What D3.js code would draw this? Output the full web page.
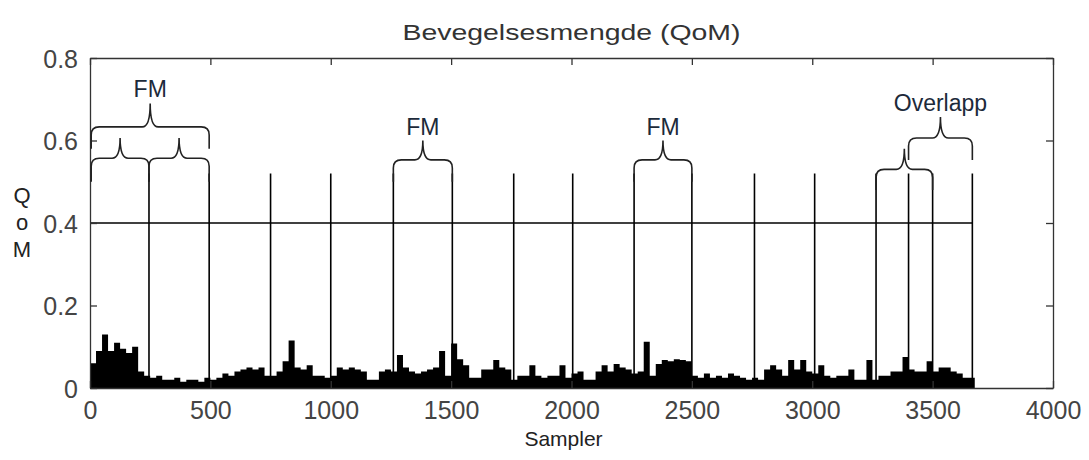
<!DOCTYPE html>
<html>
<head>
<meta charset="utf-8">
<script src="https://cdn.jsdelivr.net/npm/d3@7"></script>
<style>
  body { margin: 0; background: #fff; }
  svg { display: block; }
  .axis path, .axis line { stroke: #333; stroke-width: 1.3; }
  .axis text { font-family: "Liberation Sans", Arial, sans-serif; font-size: 25px; fill: #444; }
</style>
</head>
<body>
<div id="chart"></div>
<script>
// QoM signal, one value per 25 samples
var sampleStep = 25;
var qomValues = [
  0.06, 0.09, 0.13, 0.09, 0.11, 0.095, 0.085, 0.1, 0.04, 0.03,
  0.025, 0.03, 0.02, 0.02, 0.025, 0.015, 0.02, 0.02, 0.015, 0.025,
  0.02, 0.025, 0.035, 0.03, 0.04, 0.045, 0.05, 0.045, 0.05, 0.03,
  0.03, 0.04, 0.065, 0.115, 0.05, 0.045, 0.055, 0.03, 0.03, 0.025,
  0.03, 0.05, 0.045, 0.05, 0.045, 0.04, 0.02, 0.02, 0.04, 0.045,
  0.04, 0.08, 0.05, 0.04, 0.035, 0.04, 0.045, 0.05, 0.09, 0.03,
  0.108, 0.07, 0.055, 0.025, 0.025, 0.045, 0.045, 0.068, 0.05, 0.045,
  0.02, 0.03, 0.03, 0.055, 0.03, 0.025, 0.03, 0.03, 0.055, 0.025,
  0.035, 0.04, 0.02, 0.02, 0.04, 0.055, 0.04, 0.058, 0.05, 0.045,
  0.035, 0.04, 0.112, 0.03, 0.058, 0.068, 0.065, 0.07, 0.068, 0.065,
  0.03, 0.025, 0.035, 0.025, 0.03, 0.025, 0.035, 0.03, 0.025, 0.02,
  0.025, 0.02, 0.045, 0.055, 0.045, 0.03, 0.068, 0.045, 0.068, 0.04,
  0.035, 0.055, 0.03, 0.025, 0.03, 0.03, 0.045, 0.02, 0.02, 0.068,
  0.02, 0.03, 0.03, 0.04, 0.04, 0.075, 0.045, 0.04, 0.04, 0.065,
  0.04, 0.05, 0.05, 0.04, 0.035, 0.025, 0.025
];

// segment boundaries (samples)
var markers = [245, 495, 750, 1000, 1260, 1505, 1760, 2005, 2260, 2500,
               2760, 3010, 3265, 3400, 3500, 3665];
var markerTop = 0.52;
var threshold = 0.4;

// brace annotations: span in samples, level / tip / end in QoM units
var braces = [
  { x1: 5,    x2: 495,  level: 0.633, tip: 0.69,  end: 0.58,  label: "FM" },
  { x1: 5,    x2: 245,  level: 0.557, tip: 0.606, end: 0.50,  label: "" },
  { x1: 245,  x2: 495,  level: 0.557, tip: 0.606, end: 0.50,  label: "" },
  { x1: 1260, x2: 1505, level: 0.553, tip: 0.60,  end: 0.50,  label: "FM" },
  { x1: 2260, x2: 2500, level: 0.553, tip: 0.60,  end: 0.50,  label: "FM" },
  { x1: 3265, x2: 3500, level: 0.53,  tip: 0.58,  end: 0.48,  label: "" },
  { x1: 3400, x2: 3665, level: 0.606, tip: 0.657, end: 0.553, label: "Overlapp" }
];

var xTicks = [0, 500, 1000, 1500, 2000, 2500, 3000, 3500, 4000];
var xTickLabels = ["0", "500", "1000", "1500", "2000", "2500", "3000", "3500", "4000"];
var yTicks = [0, 0.2, 0.4, 0.6, 0.8];
var yTickLabels = ["0", "0.2", "0.4", "0.6", "0.8"];

var W = 1089, H = 460;
var margin = { top: 58, right: 36, bottom: 72, left: 90 };

var svg = d3.select("#chart").append("svg")
  .attr("width", W).attr("height", H);

var x = d3.scaleLinear().domain([0, 4000]).range([margin.left, W - margin.right]);
var y = d3.scaleLinear().domain([0, 0.8]).range([H - margin.bottom, margin.top]);

// signal area
var pts = qomValues.map(function(v, i) { return [i * sampleStep, v]; });
pts.push([qomValues.length * sampleStep, 0]);
svg.append("path")
  .datum(pts)
  .attr("fill", "#000")
  .attr("d", d3.area()
    .curve(d3.curveStepAfter)
    .x(function(d) { return x(d[0]); })
    .y0(y(0))
    .y1(function(d) { return y(d[1]); }));

// threshold line
svg.append("line")
  .attr("x1", x(0)).attr("x2", x(markers[markers.length - 1]))
  .attr("y1", y(threshold)).attr("y2", y(threshold))
  .attr("stroke", "#000").attr("stroke-width", 1.5);

// marker lines
svg.selectAll(".marker")
  .data(markers)
  .enter().append("line")
  .attr("class", "marker")
  .attr("x1", function(d) { return x(d); })
  .attr("x2", function(d) { return x(d); })
  .attr("y1", y(0)).attr("y2", y(markerTop))
  .attr("stroke", "#000").attr("stroke-width", 1.6);

// axes (MATLAB box, ticks inside)
var tickLen = 7;
var gx = svg.append("g").attr("class", "axis")
  .attr("transform", "translate(0," + y(0) + ")")
  .call(d3.axisBottom(x).tickValues(xTicks).tickSizeInner(-tickLen).tickSizeOuter(0)
    .tickFormat(function(d, i) { return xTickLabels[i]; }));
gx.selectAll("text").attr("y", 31).attr("dy", "0");

svg.append("g").attr("class", "axis")
  .attr("transform", "translate(0," + y(0.8) + ")")
  .call(d3.axisTop(x).tickValues(xTicks).tickSizeInner(-tickLen).tickSizeOuter(0).tickFormat(""));

var gy = svg.append("g").attr("class", "axis")
  .attr("transform", "translate(" + x(0) + ",0)")
  .call(d3.axisLeft(y).tickValues(yTicks).tickSizeInner(-tickLen).tickSizeOuter(0)
    .tickFormat(function(d, i) { return yTickLabels[i]; }));
gy.selectAll("text").attr("x", -12).attr("dy", "0.36em");

svg.append("g").attr("class", "axis")
  .attr("transform", "translate(" + x(4000) + ",0)")
  .call(d3.axisRight(y).tickValues(yTicks).tickSizeInner(-tickLen).tickSizeOuter(0).tickFormat(""));

// braces
function bracePath(b) {
  var x1 = x(b.x1), x2 = x(b.x2), xm = (x1 + x2) / 2;
  var yl = y(b.level), yt = y(b.tip), ye = y(b.end), r = 8;
  return "M" + x1 + "," + ye +
    "L" + x1 + "," + (yl + r) +
    "Q" + x1 + "," + yl + " " + (x1 + r) + "," + yl +
    "L" + (xm - r) + "," + yl +
    "Q" + xm + "," + yl + " " + xm + "," + yt +
    "Q" + xm + "," + yl + " " + (xm + r) + "," + yl +
    "L" + (x2 - r) + "," + yl +
    "Q" + x2 + "," + yl + " " + x2 + "," + (yl + r) +
    "L" + x2 + "," + ye;
}
svg.selectAll(".brace")
  .data(braces)
  .enter().append("path")
  .attr("class", "brace")
  .attr("d", bracePath)
  .attr("fill", "none")
  .attr("stroke", "#222")
  .attr("stroke-width", 1.6);

svg.selectAll(".blabel")
  .data(braces.filter(function(b) { return b.label; }))
  .enter().append("text")
  .attr("class", "blabel")
  .attr("x", function(b) { return x((b.x1 + b.x2) / 2); })
  .attr("y", function(b) { return y(b.tip) - 6; })
  .attr("text-anchor", "middle")
  .style("font-family", "'Liberation Sans', Arial, sans-serif")
  .style("font-size", "23px")
  .style("fill", "#1c2a3a")
  .text(function(b) { return b.label; });

// title and axis labels
svg.append("text")
  .attr("x", (x(0) + x(4000)) / 2).attr("y", 40)
  .attr("text-anchor", "middle")
  .attr("textLength", 338).attr("lengthAdjust", "spacingAndGlyphs")
  .style("font-family", "'Liberation Sans', Arial, sans-serif")
  .style("font-size", "22px").style("fill", "#333")
  .text("Bevegelsesmengde (QoM)");

svg.append("text")
  .attr("x", (x(0) + x(4000)) / 2 - 8).attr("y", 446)
  .attr("text-anchor", "middle")
  .style("font-family", "'Liberation Sans', Arial, sans-serif")
  .style("font-size", "21px").style("fill", "#222")
  .text("Sampler");

var yLab = svg.append("text")
  .attr("text-anchor", "middle")
  .style("font-family", "'Liberation Sans', Arial, sans-serif")
  .style("font-size", "22px").style("fill", "#222");
["Q", "o", "M"].forEach(function(c, i) {
  yLab.append("tspan").attr("x", 22).attr("y", 203 + i * 27).text(c);
});
</script>
</body>
</html>
